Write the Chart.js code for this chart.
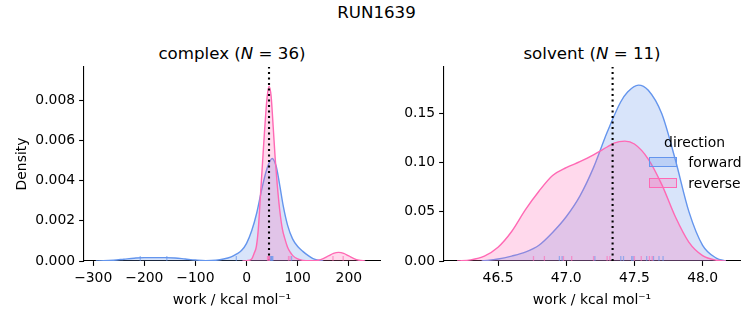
<!DOCTYPE html>
<html>
<head>
<meta charset="utf-8">
<title>RUN1639</title>
<script src="https://cdn.jsdelivr.net/npm/chart.js@4.4.1/dist/chart.umd.min.js"></script>
<style>
  body { margin: 0; background: #fff; }
  #page { position: relative; width: 753px; height: 325px; overflow: hidden; font-family: "DejaVu Sans", sans-serif; color: #000; }
  .txt { position: absolute; white-space: nowrap; line-height: 20px; }
  .ctr { transform: translateX(-50%); }
  .big { font-size: 16.67px; }
  .small { font-size: 13.9px; }
  .panel { position: absolute; top: 0; }
  .sw { position: absolute; box-sizing: border-box; width: 27.5px; height: 10px; border: 1.3px solid; }
</style>
</head>
<body>
<div id="page">
  <div class="txt ctr big" style="left:376.5px;top:3px">RUN1639</div>
  <div class="txt ctr big" style="left:232px;top:44px">complex (<i>N</i> = 36)</div>
  <div class="txt ctr big" style="left:592px;top:44px">solvent (<i>N</i> = 11)</div>

  <div class="panel" style="left:0;width:390px"><canvas id="cx" width="390" height="325"></canvas></div>
  <div class="panel" style="left:380px;width:373px"><canvas id="sv" width="373" height="325"></canvas></div>

  <!-- legend -->
  <div class="txt ctr small" style="left:694.5px;top:131.5px">direction</div>
  <div class="sw" style="left:649.3px;top:157.3px;border-color:#6495ED;background:rgba(100,149,237,0.25)"></div>
  <div class="txt small" style="left:688.3px;top:152.3px">forward</div>
  <div class="sw" style="left:649.3px;top:178.3px;border-color:#FF69B4;background:rgba(255,105,180,0.25)"></div>
  <div class="txt small" style="left:688.3px;top:173px">reverse</div>
</div>

<script>
// ---- complex : KDE curves ----
const cxFwdX = [-295,-280,-260,-240,-220,-200,-180,-160,-140,-120,-100,-80,-60,-45,-30,-20,-10,0,10,20,30,40,50,58,64,72,80,90,100,110,120,130,140,150];
const cxFwdY = [0,0.00001,0.00004,0.00009,0.00014,0.00017,0.00017,0.00017,0.00015,0.00010,0.00005,0.00002,0.00004,0.00010,0.00021,0.00034,0.00052,0.00088,0.0015,0.0024,0.0036,0.0046,0.0051,0.0047,0.0039,0.0027,0.0018,0.0011,0.00072,0.00048,0.00028,0.00012,0.00004,0];
const cxRevX = [-8,0,10,15,19,23,27,31,35,40,44,48,52,56,60,65,70,75,80,85,90,100,110,125,140,150,160,170,180,190,200,210,220,232];
const cxRevY = [0,0.00002,0.0001,0.0004,0.0007,0.0016,0.0032,0.0048,0.0064,0.0081,0.0087,0.0082,0.0067,0.0051,0.0038,0.0025,0.0016,0.0011,0.0007,0.00045,0.00028,0.0001,0.00003,0.00001,0.00004,0.00012,0.00025,0.00038,0.00043,0.00038,0.00025,0.00012,0.00004,0];
const cxRugFwd = [-208,-156,-20,45,46.5,48,49,50,51.5,88];
const cxRugRev = [41,42.5,43.5,44,45,82,85,169,189];
const cxMark = 43.9;
const cxXTicks = [-300,-200,-100,0,100,200];
const cxYTicks = [0,0.002,0.004,0.006,0.008];

// ---- solvent ----
const svFwdX = [46.38,46.5,46.6,46.7,46.8,46.9,47.0,47.1,47.2,47.3,47.4,47.45,47.53,47.6,47.7,47.8,47.9,48.0,48.1,48.17];
const svFwdY = [0,0.002,0.005,0.009,0.016,0.029,0.045,0.066,0.095,0.131,0.162,0.172,0.179,0.174,0.150,0.103,0.050,0.016,0.003,0];
const svRevX = [46.2,46.3,46.4,46.5,46.6,46.7,46.8,46.9,47.0,47.1,47.2,47.3,47.35,47.43,47.5,47.6,47.7,47.8,47.9,48.0,48.1,48.17];
const svRevY = [0,0.0012,0.005,0.014,0.030,0.052,0.071,0.087,0.095,0.101,0.108,0.116,0.120,0.122,0.119,0.104,0.078,0.045,0.019,0.0055,0.0008,0];
const svRugFwd = [46.95,46.97,47.21,47.40,47.42,47.48,47.49,47.59,47.64,47.68,47.71];
const svRugRev = [46.76,46.84,46.98,47.04,47.20,47.30,47.32,47.50,47.55,47.61,47.63];
const svMark = 47.34;
const svXTicks = [46.5,47,47.5,48];
const svYTicks = [0,0.05,0.1,0.15];

const BLUE = '#6495ED', PINK = '#FF69B4';
const BLUE_F = 'rgba(100,149,237,0.25)', PINK_F = 'rgba(255,105,180,0.25)';

Chart.defaults.font.family = '"DejaVu Sans", sans-serif';
Chart.defaults.font.size = 13.9;
Chart.defaults.color = '#000';

function pts(xs, ys) { return xs.map((x, i) => ({ x: x, y: ys[i] })); }

function kde(xs, ys, col, fillCol, order) {
  return {
    data: pts(xs, ys), borderColor: col, backgroundColor: fillCol, borderWidth: 1.4,
    fill: 'origin', pointRadius: 0, cubicInterpolationMode: 'monotone', order: order
  };
}

// dotted vertical marker (axvline)
function mark(x, top) {
  return {
    data: [{ x: x, y: 0 }, { x: x, y: top }], borderColor: '#000', borderWidth: 2.1,
    borderDash: [2.1, 3.4], pointRadius: 0, fill: false, order: 0
  };
}

// rug ticks along the bottom
function rug(sets) {
  return {
    id: 'rug',
    afterDatasetsDraw(chart) {
      const { ctx, chartArea, scales } = chart;
      sets.forEach(s => {
        ctx.save();
        ctx.strokeStyle = s.color;
        ctx.lineWidth = 1.3;
        s.values.forEach(v => {
          const px = scales.x.getPixelForValue(v);
          ctx.beginPath();
          ctx.moveTo(px, chartArea.bottom);
          ctx.lineTo(px, chartArea.bottom - 5);
          ctx.stroke();
        });
        ctx.restore();
      });
    }
  };
}

function axis(min, max, ticks, fmt, fit, extra) {
  return Object.assign({
    type: 'linear', min: min, max: max,
    afterBuildTicks: s => { s.ticks = ticks.map(v => ({ value: v })); },
    afterFit: fit,
    ticks: { callback: fmt, padding: 4, autoSkip: false, maxRotation: 0 },
    grid: { drawOnChartArea: false, drawTicks: true, tickLength: 4.9, tickWidth: 1.1, tickColor: '#000' },
    border: { display: true, color: '#000', width: 1.1 }
  }, extra);
}

function panel(id, o) {
  return new Chart(document.getElementById(id), {
    type: 'line',
    data: {
      datasets: [
        kde(o.fx, o.fy, BLUE, BLUE_F, 2),
        kde(o.rx, o.ry, PINK, PINK_F, 1),
        mark(o.mark, o.ymax)
      ]
    },
    options: {
      responsive: false, animation: false, devicePixelRatio: 1,
      layout: { padding: o.pad },
      plugins: { legend: { display: false }, tooltip: { enabled: false }, title: { display: false } },
      scales: {
        x: axis(o.xmin, o.xmax, o.xticks, o.xfmt, s => { s.height = 64; }, {
          title: { display: true, text: 'work / kcal mol\u207B\u00B9', padding: { top: 0, bottom: 16.7 } }
        }),
        y: axis(0, o.ymax, o.yticks, o.yfmt, s => { s.width = o.yw; }, {
          title: o.ytitle ? { display: true, text: o.ytitle, padding: { top: 13.7, bottom: 0 } } : { display: false }
        })
      }
    },
    plugins: [rug([
      { values: o.rugF, color: 'rgba(100,149,237,0.6)' },
      { values: o.rugR, color: 'rgba(255,105,180,0.6)' }
    ])]
  });
}

panel('cx', {
  fx: cxFwdX, fy: cxFwdY, rx: cxRevX, ry: cxRevY, rugF: cxRugFwd, rugR: cxRugRev, mark: cxMark,
  xmin: -318, xmax: 261, ymax: 0.00965, xticks: cxXTicks, yticks: cxYTicks,
  xfmt: v => v < 0 ? '\u2212' + (-v) : String(v), yfmt: v => v.toFixed(3),
  yw: 84, ytitle: 'Density', pad: { top: 67, right: 10, left: 0, bottom: 0 }
});

panel('sv', {
  fx: svFwdX, fy: svFwdY, rx: svRevX, ry: svRevY, rugF: svRugFwd, rugR: svRugRev, mark: svMark,
  xmin: 46.104, xmax: 48.274, ymax: 0.1974, xticks: svXTicks, yticks: svYTicks,
  xfmt: v => v.toFixed(1), yfmt: v => v.toFixed(2),
  yw: 64, ytitle: null, pad: { top: 67, right: 13, left: 0, bottom: 0 }
});
</script>
</body>
</html>
